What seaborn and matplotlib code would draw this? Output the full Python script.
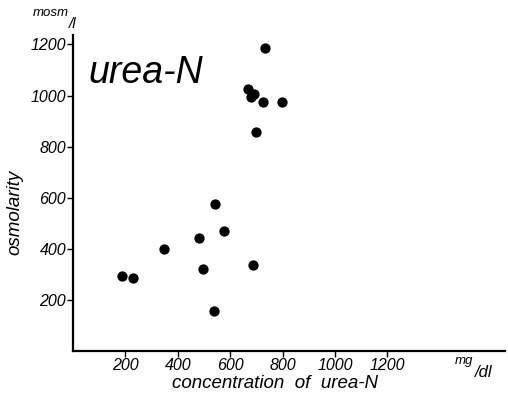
import matplotlib
matplotlib.use("Agg")
import matplotlib.pyplot as plt
import seaborn as sns
import pandas as pd

# urea-N concentration (mg/dl) vs osmolarity (mosm/l)
urea_n = [187, 227, 348, 479, 498, 542, 578, 540, 688,
          735, 670, 692, 681, 725, 797, 698]
osmolarity = [295, 286, 398, 441, 320, 575, 470, 155, 337,
              1187, 1024, 1007, 994, 976, 974, 858]
x_ticks = [200, 400, 600, 800, 1000, 1200]
y_ticks = [200, 400, 600, 800, 1000, 1200]

df = pd.DataFrame({"urea_n": urea_n, "osmolarity": osmolarity})

sns.set_style("ticks")
plt.rcParams["font.family"] = ["Liberation Sans", "DejaVu Sans"]
plt.rcParams["font.style"] = "italic"
plt.rcParams["text.color"] = "black"
plt.rcParams["axes.labelcolor"] = "black"

fig = plt.figure(figsize=(5.08, 4.0), dpi=100)
ax = fig.add_axes([0.144, 0.1225, 0.85, 0.79])

sns.scatterplot(data=df, x="urea_n", y="osmolarity", ax=ax,
                color="black", s=55, edgecolor="black", linewidth=0)

ax.set_xlim(0, 1650)
ax.set_ylim(0, 1237)
ax.set_xticks(x_ticks)
ax.set_yticks(y_ticks)
ax.set_xticklabels([str(v) for v in x_ticks], fontsize=11.5, style="italic")
ax.set_yticklabels([str(v) for v in y_ticks], fontsize=11.5, style="italic")
ax.tick_params(direction="out", length=4, width=1, pad=1, colors="black")
sns.despine(ax=ax)
for s in ["left", "bottom"]:
    ax.spines[s].set_linewidth(1.6)
    ax.spines[s].set_color("black")

ax.set_xlabel("concentration  of  urea-N", fontsize=13.5, style="italic")
ax.set_ylabel("osmolarity", fontsize=13.5, style="italic")
ax.xaxis.set_label_coords(0.468, -0.075)
ax.yaxis.set_label_coords(-0.115, 0.44)

ax.text(0.035, 0.88, "urea-N", transform=ax.transAxes, fontsize=27,
        style="italic", va="center", ha="left")
fig.text(0.065, 0.968, "mosm", fontsize=9.5, style="italic", ha="left", va="center")
fig.text(0.135, 0.94, "/l", fontsize=11, style="italic", ha="left", va="center")
fig.text(0.895, 0.097, "mg", fontsize=9.5, style="italic", ha="left", va="center")
fig.text(0.935, 0.068, "/dl", fontsize=12, style="italic", ha="left", va="center")

fig.savefig("out.png", dpi=100)
